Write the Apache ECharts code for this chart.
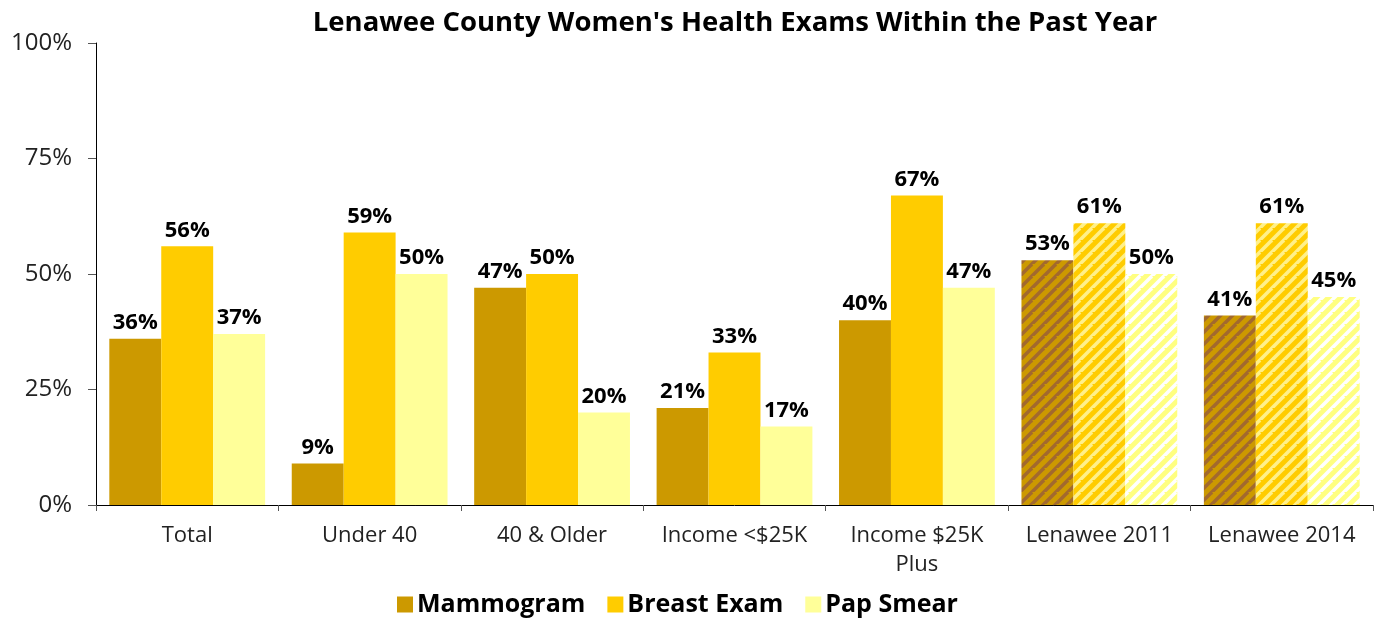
<!DOCTYPE html>
<html>
<head>
<meta charset="utf-8">
<script src="https://cdn.jsdelivr.net/npm/echarts@6/dist/echarts.min.js"></script>
<style>
html, body { margin: 0; padding: 0; background: #fff; }
#main { width: 1375px; height: 619px; }
</style>
</head>
<body>
<div id="main"></div>
<script>
// categories and values (percent)
var categories = ['Total', 'Under 40', '40 & Older', 'Income <$25K', 'Income $25K\nPlus', 'Lenawee 2011', 'Lenawee 2014'];
var mammogram = [36, 9, 47, 21, 40, 53, 41];
var breastExam = [56, 59, 50, 33, 67, 61, 61];
var papSmear = [37, 50, 20, 17, 47, 50, 45];
var yTicks = [0, 25, 50, 75, 100];
// the last two categories are drawn hatched
var hatchedFrom = 5;

// diagonal stripe pattern
function stripes(bg, fg) {
	var c = document.createElement('canvas');
	c.width = 12; c.height = 12;
	var ctx = c.getContext('2d');
	ctx.fillStyle = bg;
	ctx.fillRect(0, 0, 12, 12);
	ctx.strokeStyle = fg;
	ctx.lineWidth = 3.5;
	for (var k = -12; k <= 24; k += 12) {
		ctx.beginPath();
		ctx.moveTo(k - 12, 24);
		ctx.lineTo(k + 12, 0);
		ctx.stroke();
	}
	return { image: c, repeat: 'repeat' };
}

function buildData(values, hatch) {
	return values.map(function (v, i) {
		if (i >= hatchedFrom) {
			return { value: v, itemStyle: { color: hatch } };
		}
		return v;
	});
}

var myChart = echarts.init(document.getElementById('main'));

var labelStyle = {
	show: true,
	position: 'top',
	distance: 5,
	formatter: '{c}%',
	fontFamily: 'Open Sans',
	fontWeight: 'bold',
	fontSize: 22,
	color: '#000'
};

var option = {
	animation: false,
	title: {
		text: "Lenawee County Women's Health Exams Within the Past Year",
		left: 730,
		textAlign: 'center',
		top: 4,
		textStyle: { fontFamily: 'Open Sans', fontWeight: 'bold', fontSize: 27.5, color: '#000' }
	},
	legend: {
		bottom: -3,
		left: 392,
		itemWidth: 16,
		itemHeight: 16,
		itemGap: 22,
		textStyle: { fontFamily: 'Open Sans', fontWeight: 'bold', fontSize: 25, color: '#000', padding: [0, 0, 0, -1] },
		data: [
			{ name: 'Mammogram', icon: 'rect' },
			{ name: 'Breast Exam', icon: 'rect' },
			{ name: 'Pap Smear', icon: 'rect' }
		]
	},
	grid: { left: 96, right: 2, top: 43, bottom: 114 },
	xAxis: {
		type: 'category',
		data: categories,
		axisLine: { lineStyle: { color: '#000', width: 1 } },
		axisTick: { show: true, length: 6, lineStyle: { color: '#555' } },
		axisLabel: { interval: 0, hideOverlap: false, fontFamily: 'Open Sans', fontSize: 22, color: '#222', margin: 16, lineHeight: 29 }
	},
	yAxis: {
		type: 'value',
		min: 0,
		max: 100,
		interval: 25,
		axisLine: { show: true, lineStyle: { color: '#000', width: 1 } },
		axisTick: { show: true, length: 8, lineStyle: { color: '#555' } },
		splitLine: { show: false },
		axisLabel: {
			fontFamily: 'Open Sans', fontSize: 24, color: '#222', margin: 24,
			formatter: function (v) { return yTicks.indexOf(v) >= 0 ? v + '%' : ''; }
		}
	},
	series: [
		{
			name: 'Mammogram', type: 'bar', barGap: '0%', barCategoryGap: '14.6%',
			itemStyle: { color: '#CC9900' },
			label: labelStyle,
			data: buildData(mammogram, stripes('#CC9900', '#A2692E'))
		},
		{
			name: 'Breast Exam', type: 'bar', barGap: '0%', barCategoryGap: '14.6%',
			itemStyle: { color: '#FFCC00' },
			label: labelStyle,
			data: buildData(breastExam, stripes('#FFCC00', '#FFF08A'))
		},
		{
			name: 'Pap Smear', type: 'bar', barGap: '0%', barCategoryGap: '14.6%',
			itemStyle: { color: '#FFFF99' },
			label: labelStyle,
			data: buildData(papSmear, stripes('#FFFF80', '#FFFFFF'))
		}
	]
};

myChart.setOption(option);
</script>
</body>
</html>
